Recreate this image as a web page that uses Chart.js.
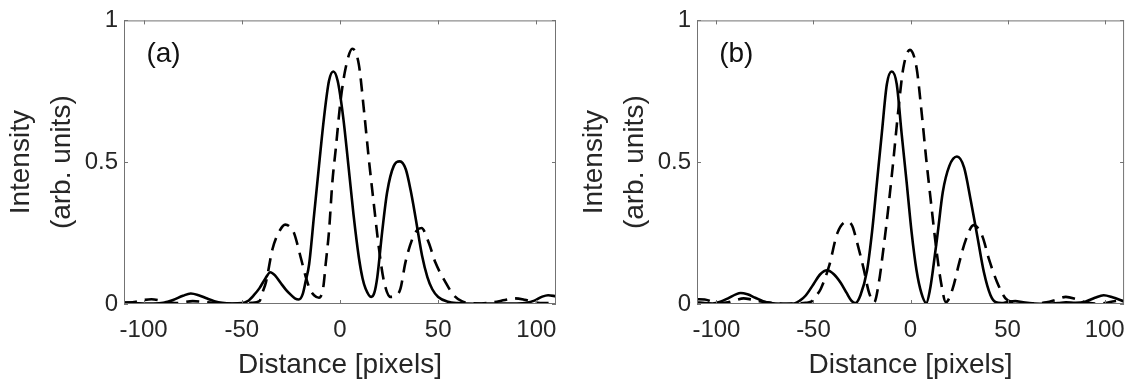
<!DOCTYPE html>
<html>
<head>
<meta charset="utf-8">
<script src="https://cdn.jsdelivr.net/npm/chart.js@4.4.1/dist/chart.umd.min.js"></script>
<style>
  body { margin: 0; background: #fff; }
  #wrap { position: relative; width: 1137px; height: 384px; }
  canvas { position: absolute; top: 0; }
  #chartA { left: 0; }
  #chartB { left: 573px; }
</style>
</head>
<body>
<div id="wrap">
  <canvas id="chartA" width="573" height="384"></canvas>
  <canvas id="chartB" width="564" height="384"></canvas>
</div>
<script>
// tick labels
const xTicks = [-100, -50, 0, 50, 100];
const yTicks = [0, 0.5, 1];

// panel (a)
const aSolidX = [-110, -105, -100, -95, -90, -85, -80, -76, -72, -68, -64, -60, -55, -50, -47, -44, -41, -38, -35.5, -33, -30, -27.5, -25, -23, -21, -19, -17.5, -15.7, -13.2, -10.7, -8.1, -5.6, -3.4, -1.2, 1.6, 4.3, 6.9, 9.6, 11.5, 13, 15.9, 17.5, 19, 21.5, 24, 27.4, 30.5, 33.5, 36, 38.4, 41.8, 44.5, 47, 50, 55, 60, 70, 80, 90, 95, 99, 103, 106, 110];
const aSolidY = [0.006, 0.003, 0.002, 0.002, 0.004, 0.014, 0.029, 0.037, 0.031, 0.02, 0.01, 0.004, 0.002, 0.003, 0.01, 0.03, 0.056, 0.09, 0.112, 0.1, 0.072, 0.05, 0.032, 0.02, 0.016, 0.035, 0.08, 0.141, 0.314, 0.487, 0.66, 0.787, 0.82, 0.787, 0.66, 0.487, 0.314, 0.164, 0.09, 0.055, 0.025, 0.04, 0.095, 0.256, 0.394, 0.487, 0.503, 0.475, 0.4, 0.308, 0.17, 0.095, 0.052, 0.025, 0.008, 0.003, 0.001, 0.002, 0.002, 0.004, 0.012, 0.026, 0.031, 0.027];

const aDashX = [-110, -104, -100, -96, -92, -88, -84, -80, -75, -70, -65, -60, -55, -50, -45, -41, -39.5, -37.7, -34.4, -31, -27.9, -25.5, -23.4, -20, -17.4, -15.2, -13.2, -10.7, -8.5, -7.3, -5.6, -3.9, -2.2, 0.3, 2.9, 6.3, 9.6, 12.2, 14.7, 17.3, 19.8, 22.3, 25.7, 28.5, 30.8, 33.3, 36.7, 39, 41.5, 45.2, 48.6, 53.7, 57.9, 62, 66, 72, 78, 84, 89, 94, 99, 104, 110];
const aDashY = [0.004, 0.008, 0.014, 0.017, 0.013, 0.006, 0.003, 0.006, 0.01, 0.008, 0.004, 0.002, 0.001, 0.002, 0.004, 0.01, 0.04, 0.077, 0.193, 0.255, 0.28, 0.272, 0.25, 0.164, 0.095, 0.05, 0.031, 0.022, 0.06, 0.141, 0.256, 0.429, 0.544, 0.717, 0.833, 0.9, 0.844, 0.683, 0.51, 0.348, 0.198, 0.083, 0.025, 0.03, 0.054, 0.146, 0.227, 0.258, 0.268, 0.216, 0.146, 0.077, 0.031, 0.01, 0.003, 0.002, 0.006, 0.014, 0.02, 0.015, 0.006, 0.003, 0.004];

// panel (b)
const bSolidX = [-110, -106, -102, -98, -94, -90, -87.5, -84, -80, -76, -72, -66, -60, -57, -54, -50, -46.5, -43, -39.5, -36, -33, -30.5, -28.5, -25.8, -22.4, -19.8, -17.3, -14.8, -12.2, -9.7, -7.1, -4.6, -2, 0.5, 3.1, 5.6, 8.1, 10, 11.5, 14.1, 16.6, 20, 23.9, 27.6, 31, 34.4, 37.8, 41.2, 44, 47, 50, 54, 58, 64, 70, 76, 80, 85, 90, 95, 99.5, 104, 110];
const bSolidY = [0.006, 0.003, 0.002, 0.008, 0.02, 0.034, 0.039, 0.034, 0.022, 0.01, 0.003, 0.001, 0.002, 0.012, 0.03, 0.07, 0.105, 0.119, 0.105, 0.075, 0.04, 0.012, 0.003, 0.031, 0.118, 0.256, 0.429, 0.602, 0.775, 0.82, 0.775, 0.602, 0.429, 0.256, 0.118, 0.038, 0.003, 0.05, 0.118, 0.256, 0.394, 0.487, 0.52, 0.481, 0.366, 0.239, 0.112, 0.031, 0.006, 0.003, 0.007, 0.01, 0.006, 0.002, 0.001, 0.003, 0.006, 0.004, 0.008, 0.022, 0.031, 0.024, 0.009];

const bDashX = [-110, -106, -102, -98, -94, -90, -86, -82, -78, -74, -70, -64, -58, -54, -51.2, -48.5, -46.2, -41.9, -37.7, -32.6, -30, -27.5, -24.1, -21.5, -18.7, -16.4, -13.9, -11.3, -8.8, -6.3, -3.7, -0.3, 3.1, 5.6, 8.1, 10.7, 13.2, 15.8, 18.2, 21.7, 25.1, 28.5, 32.5, 37, 40.4, 44.6, 48.9, 53, 58, 64, 70, 75, 80, 85, 90, 95, 100, 105, 110];
const bDashY = [0.017, 0.016, 0.008, 0.003, 0.006, 0.014, 0.02, 0.016, 0.01, 0.006, 0.003, 0.001, 0.002, 0.004, 0.008, 0.03, 0.054, 0.135, 0.25, 0.291, 0.275, 0.216, 0.123, 0.043, 0.006, 0.072, 0.198, 0.348, 0.51, 0.683, 0.833, 0.896, 0.833, 0.683, 0.51, 0.348, 0.198, 0.072, 0.006, 0.054, 0.146, 0.227, 0.278, 0.239, 0.158, 0.077, 0.02, 0.006, 0.002, 0.002, 0.006, 0.015, 0.025, 0.018, 0.006, 0.002, 0.003, 0.01, 0.014];

const FONT = "'Liberation Sans', Arial, Helvetica, sans-serif";
const TEXT = '#262626';

function pts(xs, ys) {
  return xs.map((x, i) => ({ x: x, y: ys[i] }));
}

// box with inward ticks on all sides + panel letter
const framePlugin = {
  id: 'frame',
  afterDatasetsDraw(chart, args, opts) {
    const ctx = chart.ctx;
    const a = chart.chartArea;
    const xs = chart.scales.x, ys = chart.scales.y;
    ctx.save();
    ctx.strokeStyle = '#737373';
    ctx.lineWidth = 1;
    ctx.strokeRect(a.left + 0.5, a.top + 0.5, a.width - 1, a.height - 1);
    ctx.beginPath();
    xTicks.forEach(v => {
      const px = Math.round(xs.getPixelForValue(v)) + 0.5;
      ctx.moveTo(px, a.bottom); ctx.lineTo(px, a.bottom - 4);
      ctx.moveTo(px, a.top); ctx.lineTo(px, a.top + 4);
    });
    yTicks.forEach(v => {
      const py = Math.round(ys.getPixelForValue(v)) + 0.5;
      ctx.moveTo(a.left, py); ctx.lineTo(a.left + 4, py);
      ctx.moveTo(a.right, py); ctx.lineTo(a.right - 4, py);
    });
    ctx.stroke();
    ctx.fillStyle = '#111';
    ctx.font = '28px ' + FONT;
    ctx.textBaseline = 'alphabetic';
    ctx.fillText(opts.label, xs.getPixelForValue(-98.6), ys.getPixelForValue(0.854));
    ctx.restore();
  }
};

function makeChart(id, label, solid, dash, rightPad) {
  const ctx = document.getElementById(id).getContext('2d');
  return new Chart(ctx, {
    type: 'line',
    data: {
      datasets: [
        { data: solid, borderColor: '#000', borderWidth: 2.6, pointRadius: 0, fill: false, cubicInterpolationMode: 'monotone' },
        { data: dash, borderColor: '#000', borderWidth: 2.6, borderDash: [13, 8], pointRadius: 0, fill: false, cubicInterpolationMode: 'monotone' }
      ]
    },
    options: {
      responsive: false,
      animation: false,
      layout: { padding: { top: 15, right: rightPad, bottom: 0, left: 0 } },
      plugins: { legend: { display: false }, tooltip: { enabled: false }, frame: { label: label } },
      scales: {
        x: {
          type: 'linear', min: -110, max: 110,
          afterBuildTicks: s => { s.ticks = xTicks.map(v => ({ value: v })); },
          afterFit: s => { s.height = 80; },
          grid: { display: false, drawTicks: false },
          border: { display: false },
          ticks: { padding: 12, color: TEXT, font: { family: FONT, size: 24 }, maxRotation: 0, autoSkip: false, callback: v => String(v) },
          title: { display: true, text: 'Distance [pixels]', color: TEXT, font: { family: FONT, size: 28 }, padding: { top: 0, bottom: 2 } }
        },
        y: {
          type: 'linear', min: 0, max: 1,
          afterBuildTicks: s => { s.ticks = yTicks.map(v => ({ value: v })); },
          afterFit: s => { s.width = 124; },
          grid: { display: false, drawTicks: false },
          border: { display: false },
          ticks: { padding: 6, color: TEXT, font: { family: FONT, size: 24 }, callback: v => String(v) },
          title: { display: true, text: ['Intensity', '(arb. units)'], color: TEXT, font: { family: FONT, size: 28, lineHeight: 1.45 }, padding: { top: 1, bottom: 0 } }
        }
      }
    },
    plugins: [framePlugin]
  });
}

makeChart('chartA', '(a)', pts(aSolidX, aSolidY), pts(aDashX, aDashY), 17);
makeChart('chartB', '(b)', pts(bSolidX, bSolidY), pts(bDashX, bDashY), 7);
</script>
</body>
</html>
